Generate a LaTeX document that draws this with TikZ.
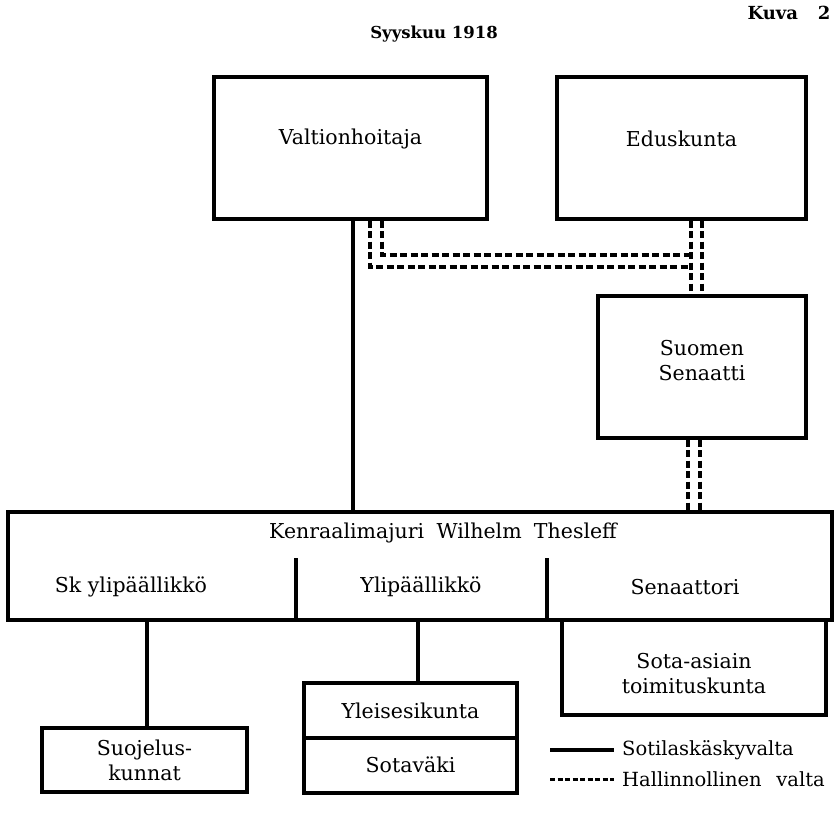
\documentclass[tikz,border=0pt]{standalone}
\usepackage{fontspec}
\setmainfont{DejaVu Serif}
\tikzset{
  bx/.style 2 args={draw, line width=3.4pt, minimum width=#1, minimum height=#2, inner sep=0pt, align=center},
  lbl/.style={inner sep=0pt, align=center},
  solidline/.style={line width=3.2pt},
  dline/.style={line width=3.6pt, dash pattern=on 7pt off 3.5pt},
  legdash/.style={line width=3pt, dash pattern=on 5pt off 2.5pt},
}
\begin{document}
\begin{tikzpicture}[x=1pt,y=-1pt,font=\fontsize{20.5}{25}\selectfont]
\useasboundingbox (0,0) rectangle (840,812);
% titles
\node[lbl,font=\fontsize{18}{22}\selectfont\bfseries] (kuva) at (789,13) {Kuva\hspace{1.1em}2};
\node[lbl,font=\fontsize{16.5}{20}\selectfont\bfseries] (title) at (434,34) {Syyskuu 1918};
% boxes
\node[bx={273pt}{142pt}] (valt) at (350.5,148) {};
\node[bx={249pt}{142pt}] (edus) at (681.5,148) {};
\node[bx={208pt}{142pt}] (sen) at (702,367) {};
\node[bx={824pt}{108pt}] (ken) at (420,566) {};
\node[bx={264pt}{95pt}] (sota) at (694,667.5) {};
\node[bx={205pt}{64pt}] (suo) at (144.5,760) {Suojelus-\\kunnat};
\node[bx={213pt}{110pt}] (yle) at (410.5,738) {};
% texts inside
\node[lbl] (valtt) at (350.5,139) {Valtionhoitaja};
\node[lbl] (edust) at (681.5,139) {Eduskunta};
\node[lbl] (sent) at (702,361) {Suomen\\Senaatti};
\node[lbl] (sotat) at (694,674) {Sota-asiain\\toimituskunta};
\node[lbl] (kent) at (443,533) {Kenraalimajuri\hspace{0.6em}Wilhelm\hspace{0.6em}Thesleff};
\node[lbl] (sky) at (131,587) {Sk ylipäällikkö};
\node[lbl] (yli) at (421,587) {Ylipäällikkö};
\node[lbl] (senr) at (685,587) {Senaattori};
\node[lbl] (ylei) at (410.5,711) {Yleisesikunta};
\node[lbl] (sotav) at (410.5,765) {Sotaväki};
% dividers
\coordinate (dv1) at (296,558);
\coordinate (dv2) at (547,558);
\draw[solidline] (dv1) -- (dv1 |- ken.south);
\draw[solidline] (dv2) -- (dv2 |- ken.south);
\draw[line width=3.4pt] (yle.west) -- (yle.east);
% solid connectors
\coordinate (c1) at (353,0);
\draw[solidline] (c1 |- valt.south) -- (c1 |- ken.north);
\coordinate (c2) at (147,0);
\draw[solidline] (c2 |- ken.south) -- (c2 |- suo.north);
\coordinate (c3) at (418,0);
\draw[solidline] (c3 |- ken.south) -- (c3 |- yle.north);
% dashed double connectors
\coordinate (a1) at (370,267);
\coordinate (a2) at (382,255);
\coordinate (e1) at (691,0);
\coordinate (e2) at (702,0);
\draw[dline] (a1 |- valt.south) -- (a1) -- (e1 |- a1);
\draw[dline] (a2 |- valt.south) -- (a2) -- (e1 |- a2);
\draw[dline] (e1 |- edus.south) -- (e1 |- sen.north);
\draw[dline] (e2 |- edus.south) -- (e2 |- sen.north);
\coordinate (s1) at (688,0);
\coordinate (s2) at (700,0);
\draw[dline] (s1 |- sen.south) -- (s1 |- ken.north);
\draw[dline] (s2 |- sen.south) -- (s2 |- ken.north);
% legend
\coordinate (l1) at (550,750);
\coordinate (l2) at (614,750);
\coordinate (l3) at (550,779);
\coordinate (l4) at (614,779);
\node[lbl,anchor=west,font=\fontsize{19.5}{22}\selectfont] (leg1) at (622,750) {Sotilaskäskyvalta};
\node[lbl,anchor=west,font=\fontsize{19.5}{22}\selectfont] (leg2) at (622,779) {Hallinnollinen\hspace{0.75em}valta};
\draw[solidline] (l1) -- (l2);
\draw[legdash] (l3) -- (l4);
\end{tikzpicture}
\end{document}
